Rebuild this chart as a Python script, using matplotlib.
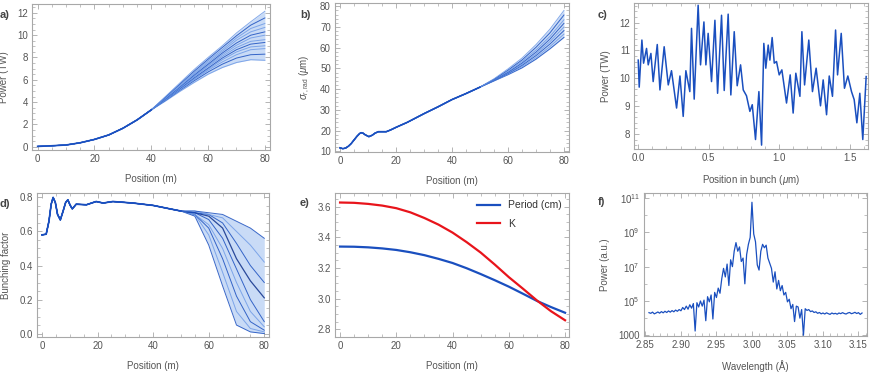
import numpy as np
import matplotlib
matplotlib.use("Agg")
import matplotlib.pyplot as plt
from matplotlib.ticker import MultipleLocator, FixedLocator, FormatStrFormatter, NullFormatter

plt.rcParams['font.family'] = ['Liberation Sans', 'DejaVu Sans']
plt.rcParams['mathtext.fontset'] = 'custom'
plt.rcParams['mathtext.rm'] = 'Liberation Sans'
plt.rcParams['mathtext.it'] = 'Liberation Sans:italic'

BLUE = '#1a4fbf'
LIGHT = '#c9dbf6'
MID = '#6f9be6'
RED = '#e8141b'
FRAME = '#a8a8a8'
TXT = '#555555'

# ---------------- panel a: power vs position (ensemble) ----------------
pos_a_common = [0, 5, 10, 15, 20, 25, 30, 35, 40]
power_common = [0.02, 0.08, 0.15, 0.35, 0.65, 1.05, 1.65, 2.4, 3.3]
pos_a_tail = [45, 50, 55, 60, 65, 70, 75, 80]
power_members = [
    [4.10, 4.95, 5.75, 6.50, 7.10, 7.55, 7.80, 7.75],
    [4.15, 5.05, 5.90, 6.70, 7.40, 7.95, 8.25, 8.30],
    [4.20, 5.10, 6.00, 6.85, 7.60, 8.25, 8.70, 8.80],
    [4.20, 5.15, 6.05, 6.95, 7.80, 8.50, 8.95, 9.05],
    [4.25, 5.20, 6.15, 7.05, 7.95, 8.70, 9.20, 9.35],
    [4.25, 5.25, 6.25, 7.20, 8.10, 8.90, 9.45, 9.60],
    [4.30, 5.30, 6.30, 7.30, 8.25, 9.10, 9.75, 10.00],
    [4.30, 5.35, 6.40, 7.40, 8.40, 9.30, 10.00, 10.30],
    [4.35, 5.40, 6.50, 7.55, 8.55, 9.55, 10.30, 10.70],
    [4.40, 5.50, 6.60, 7.70, 8.70, 9.75, 10.60, 11.05],
    [4.45, 5.60, 6.75, 7.85, 8.90, 9.95, 10.90, 11.55],
    [4.50, 5.70, 6.90, 8.00, 9.05, 10.20, 11.20, 12.15],
]

# ---------------- panel b: radiation size ----------------
pos_b_common = [0, 1, 2, 3, 4, 5, 6, 7, 7.5, 8.2, 9, 10.3, 11.5, 12.5, 13.7, 16.5, 18, 20,
                24, 30, 35, 40, 45, 50]
sigma_common = [11.7, 11.3, 11.6, 12.5, 13.8, 15.5, 17.2, 18.6, 19.0, 18.8, 18.0, 17.1,
                17.8, 18.8, 19.5, 19.5, 20.3, 21.6, 24.0, 28.2, 31.5, 35.0, 37.9, 41.0]
pos_b_tail = [55, 60, 65, 70, 75, 80]
sigma_members = [
    [44.0, 47.0, 50.3, 54.5, 59.5, 65.0],
    [44.1, 47.3, 50.9, 55.3, 60.6, 66.6],
    [44.2, 47.6, 51.5, 56.2, 61.8, 68.3],
    [44.4, 47.9, 52.0, 57.0, 63.0, 70.0],
    [44.5, 48.2, 52.6, 57.9, 64.2, 71.8],
    [44.6, 48.6, 53.3, 58.9, 65.5, 73.5],
    [44.8, 49.2, 54.1, 60.2, 67.2, 75.8],
    [45.0, 49.8, 55.0, 61.5, 69.0, 78.0],
]

# ---------------- panel c: power profile in bunch ----------------
bunch_pos = [0.000, 0.007, 0.026, 0.038, 0.059, 0.071, 0.090, 0.106, 0.135, 0.154,
             0.184, 0.213, 0.236, 0.272, 0.296, 0.319, 0.338, 0.366, 0.378, 0.397,
             0.425, 0.442, 0.466, 0.480, 0.496, 0.520, 0.544, 0.563, 0.591, 0.610,
             0.638, 0.657, 0.681, 0.702, 0.726, 0.745, 0.768, 0.792, 0.809, 0.832,
             0.856, 0.875, 0.891, 0.905, 0.922, 0.934, 0.950, 0.965, 0.981, 1.000,
             1.019, 1.052, 1.078, 1.099, 1.118, 1.147, 1.161, 1.180, 1.210, 1.236,
             1.262, 1.293, 1.312, 1.336, 1.355, 1.378, 1.400, 1.414, 1.440, 1.463,
             1.487, 1.513, 1.532, 1.551, 1.572, 1.593, 1.617]
bunch_power = [10.65, 9.68, 11.37, 10.54, 11.07, 10.48, 10.89, 9.88, 11.21, 9.58,
               11.13, 9.76, 10.27, 8.93, 10.08, 8.63, 10.27, 9.52, 11.79, 9.25,
               12.62, 10.48, 12.02, 10.48, 11.61, 9.88, 12.08, 9.46, 12.26, 9.56,
               12.30, 9.40, 11.67, 9.73, 10.48, 9.58, 9.37, 8.81, 9.05, 7.80,
               9.52, 7.60, 11.25, 10.36, 11.19, 10.65, 11.46, 10.54, 10.60, 10.12,
               10.30, 9.11, 10.12, 8.75, 10.18, 9.35, 11.67, 9.76, 11.37, 9.52,
               10.36, 9.01, 9.94, 8.69, 10.08, 9.35, 11.73, 10.12, 11.61, 9.64,
               10.08, 9.52, 9.23, 8.40, 9.46, 7.80, 10.06]

# ---------------- panel d: bunching factor ----------------
pos_d_common = [0, 1.5, 2.5, 3.3, 4, 4.8, 5.6, 6.6, 7.6, 8.5, 9.3, 10.1, 10.9, 12.3,
                16, 19.5, 22, 25.5, 32.7, 40, 46, 50]
bunch_common = [0.58, 0.584, 0.66, 0.76, 0.80, 0.77, 0.70, 0.668, 0.72, 0.77, 0.786,
                0.755, 0.733, 0.76, 0.757, 0.776, 0.767, 0.776, 0.767, 0.753, 0.733, 0.72]
pos_d_tail = [55, 60, 65, 70, 75, 80]
bunch_members = [
    [0.69, 0.52, 0.28, 0.05, 0.01, 0.00],
    [0.70, 0.58, 0.36, 0.13, 0.03, 0.01],
    [0.70, 0.62, 0.44, 0.22, 0.07, 0.02],
    [0.70, 0.64, 0.50, 0.30, 0.13, 0.04],
    [0.71, 0.67, 0.56, 0.38, 0.20, 0.07],
    [0.71, 0.69, 0.62, 0.44, 0.31, 0.21],
    [0.71, 0.70, 0.65, 0.53, 0.40, 0.30],
    [0.72, 0.70, 0.68, 0.60, 0.52, 0.42],
    [0.72, 0.71, 0.70, 0.66, 0.62, 0.56],
]

# ---------------- panel e: undulator taper ----------------
pos_e = [0, 5, 10, 15, 20, 25, 30, 35, 40, 45, 50, 55, 60, 65, 70, 75, 80]
period_cm = [3.339, 3.338, 3.334, 3.327, 3.317, 3.302, 3.283, 3.259, 3.232, 3.198,
             3.160, 3.120, 3.078, 3.032, 2.985, 2.945, 2.908]
k_value = [3.626, 3.624, 3.617, 3.606, 3.589, 3.562, 3.525, 3.482, 3.430, 3.368,
           3.300, 3.222, 3.140, 3.065, 2.988, 2.918, 2.859]

# ---------------- panel f: spectrum ----------------
wl_start, wl_stop = 2.855, 3.155
spec_log = [4.32, 4.28, 4.35, 4.25, 4.30, 4.36, 4.29, 4.38, 4.31, 4.40,
            4.33, 4.42, 4.35, 4.44, 4.37, 4.47, 4.40, 4.50, 4.43,
            4.62, 4.50, 4.70, 4.52, 4.78, 4.58, 4.85, 3.25, 4.90, 4.65,
            5.00, 4.70, 5.05, 3.85, 5.25, 4.95, 5.35, 3.95, 5.50, 5.20,
            5.75, 5.45, 6.30, 6.90, 6.40, 7.15, 5.90, 7.40, 7.00, 7.90,
            8.40, 7.90, 8.15, 7.30, 7.50, 6.00, 7.70, 8.30, 8.70, 10.75,
            8.90, 8.45, 7.10, 6.80, 7.90, 8.30, 8.10, 8.25, 7.50, 7.20,
            6.90, 6.10, 6.70, 5.70, 6.20, 5.60, 5.90, 5.35, 5.50, 4.95,
            5.10, 4.55, 4.80, 3.80, 4.70, 4.65, 4.00, 4.50, 3.00, 4.55,
            4.45, 4.50, 4.38, 4.42, 4.33, 4.37, 4.28, 4.33, 4.25, 4.30,
            4.24, 4.31, 4.26, 4.22, 4.30, 4.25, 4.28, 4.23, 4.30, 4.26,
            4.32, 4.27, 4.24, 4.30, 4.33, 4.26, 4.29, 4.34, 4.27, 4.32, 4.22, 4.30]

# =====================================================================
fig = plt.figure(figsize=(8.72, 3.74), dpi=100)
W, H = 872.0, 374.0


def make_ax(l, r, t, b):
    return fig.add_axes([l / W, 1 - b / H, (r - l) / W, (b - t) / H])


def style(ax):
    for s in ax.spines.values():
        s.set_color(FRAME)
        s.set_linewidth(0.8)
    ax.tick_params(which='both', direction='in', top=True, right=True,
                   colors=FRAME, labelcolor=TXT, labelsize=7)
    ax.tick_params(which='major', length=3.5, width=0.6, pad=3)
    ax.tick_params(which='minor', length=2, width=0.5)


def panel_label(x, y, s):
    fig.text(x / W, 1 - y / H, s, fontsize=8, fontweight='bold', color='#444444',
             ha='left', va='center')


axa = make_ax(32, 270, 4, 150)
axb = make_ax(335, 569, 3, 152)
axc = make_ax(634, 868, 3, 149)
axd = make_ax(37, 269, 193, 337)
axe = make_ax(335, 569, 193, 337)
axf = make_ax(644, 867, 193, 336)

# ---- a
xa = pos_a_common + pos_a_tail
lo = power_common + power_members[0]
hi = power_common + power_members[-1]
axa.fill_between(xa, lo, hi, color=LIGHT, lw=0)
for i, m in enumerate(power_members):
    c = BLUE if i % 3 == 1 else MID
    axa.plot(xa, power_common + m, color=c, lw=0.7, alpha=0.85)
axa.plot(pos_a_common, power_common, color=BLUE, lw=1.2)
axa.set_xlim(-2, 81.8)
axa.set_ylim(-0.3, 12.8)
axa.xaxis.set_major_locator(MultipleLocator(20))
axa.xaxis.set_minor_locator(MultipleLocator(5))
axa.yaxis.set_major_locator(MultipleLocator(2))
axa.yaxis.set_minor_locator(MultipleLocator(0.5))
axa.set_xlabel('Position (m)', fontsize=7, color=TXT, labelpad=7)
axa.set_ylabel('Power (TW)', fontsize=7, color=TXT, labelpad=6)
style(axa)

# ---- b
xb = pos_b_common + pos_b_tail
axb.fill_between(xb, sigma_common + sigma_members[0], sigma_common + sigma_members[-1],
                 color=LIGHT, lw=0)
for i, m in enumerate(sigma_members):
    c = BLUE if i % 2 == 0 else MID
    axb.plot(xb, sigma_common + m, color=c, lw=0.7, alpha=0.85)
axb.plot(pos_b_common, sigma_common, color=BLUE, lw=1.2)
axb.set_xlim(-1.8, 81.8)
axb.set_ylim(9.7, 81.6)
axb.xaxis.set_major_locator(MultipleLocator(20))
axb.xaxis.set_minor_locator(MultipleLocator(5))
axb.yaxis.set_major_locator(MultipleLocator(10))
axb.yaxis.set_minor_locator(MultipleLocator(2))
axb.set_xlabel('Position (m)', fontsize=7, color=TXT, labelpad=7)
axb.set_ylabel(r'$\sigma_{r,\mathrm{rad}}$ ($\mu$m)', fontsize=7, color=TXT, labelpad=6)
style(axb)

# ---- c
axc.plot(bunch_pos, bunch_power, color=BLUE, lw=1.1)
axc.set_xlim(-0.03, 1.63)
axc.set_ylim(7.46, 12.7)
axc.xaxis.set_major_locator(MultipleLocator(0.5))
axc.xaxis.set_minor_locator(MultipleLocator(0.1))
axc.xaxis.set_major_formatter(FormatStrFormatter('%.1f'))
axc.yaxis.set_major_locator(MultipleLocator(1))
axc.yaxis.set_minor_locator(MultipleLocator(0.2))
axc.set_xlabel(r'Position in bunch ($\mu$m)', fontsize=7, color=TXT, labelpad=7)
axc.set_ylabel('Power (TW)', fontsize=7, color=TXT, labelpad=6)
style(axc)

# ---- d
xd = pos_d_common + pos_d_tail
axd.fill_between(xd, bunch_common + bunch_members[0], bunch_common + bunch_members[-1],
                 color=LIGHT, lw=0)
for i, m in enumerate(bunch_members):
    c = '#0d2f8a' if i == 5 else (BLUE if i % 2 == 0 else MID)
    axd.plot(xd, bunch_common + m, color=c, lw=0.7 if i != 5 else 0.9, alpha=0.85)
axd.plot(pos_d_common, bunch_common, color=BLUE, lw=1.2)
axd.set_xlim(-1.8, 81.7)
axd.set_ylim(-0.02, 0.826)
axd.xaxis.set_major_locator(MultipleLocator(20))
axd.xaxis.set_minor_locator(MultipleLocator(5))
axd.yaxis.set_major_locator(MultipleLocator(0.2))
axd.yaxis.set_minor_locator(MultipleLocator(0.05))
axd.yaxis.set_major_formatter(FormatStrFormatter('%.1f'))
axd.set_xlabel('Position (m)', fontsize=7, color=TXT, labelpad=7)
axd.set_ylabel('Bunching factor', fontsize=7, color=TXT, labelpad=6)
style(axd)

# ---- e
axe.plot(pos_e, period_cm, color=BLUE, lw=1.6, label='Period (cm)')
axe.plot(pos_e, k_value, color=RED, lw=1.6, label='K')
axe.set_xlim(-1.8, 81.4)
axe.set_ylim(2.75, 3.688)
axe.xaxis.set_major_locator(MultipleLocator(20))
axe.xaxis.set_minor_locator(MultipleLocator(5))
axe.yaxis.set_major_locator(MultipleLocator(0.2))
axe.yaxis.set_minor_locator(MultipleLocator(0.05))
axe.yaxis.set_major_formatter(FormatStrFormatter('%.1f'))
axe.set_xlabel('Position (m)', fontsize=7, color=TXT, labelpad=7)
leg = axe.legend(loc='upper right', frameon=False, fontsize=7.5, handlelength=2.2,
                 borderaxespad=0.3, labelspacing=0.8)
for t in leg.get_texts():
    t.set_color('#333333')
style(axe)

# ---- f
wl = np.linspace(wl_start, wl_stop, len(spec_log))
axf.plot(wl, 10.0 ** np.array(spec_log), color=BLUE, lw=0.9)
axf.set_yscale('log')
axf.set_xlim(2.848, 3.162)
axf.set_ylim(10 ** 2.96, 10 ** 11.29)
axf.xaxis.set_major_locator(MultipleLocator(0.05))
axf.xaxis.set_minor_locator(MultipleLocator(0.01))
axf.xaxis.set_major_formatter(FormatStrFormatter('%.2f'))
axf.yaxis.set_major_locator(FixedLocator([1e3, 1e5, 1e7, 1e9, 1e11]))
axf.yaxis.set_ticklabels(['1000', r'$10^5$', r'$10^7$', r'$10^9$', r'$10^{11}$'])
axf.yaxis.set_minor_locator(FixedLocator([1e4, 1e6, 1e8, 1e10]))
axf.yaxis.set_minor_formatter(NullFormatter())
axf.set_xlabel('Wavelength (Å)', fontsize=7, color=TXT, labelpad=7)
axf.set_ylabel('Power (a.u.)', fontsize=7, color=TXT, labelpad=6)
style(axf)

panel_label(0, 15, 'a)')
panel_label(300, 15, 'b)')
panel_label(598, 15, 'c)')
panel_label(0, 204, 'd)')
panel_label(300, 203, 'e)')
panel_label(598, 202, 'f)')

fig.savefig('out.png', dpi=100)
